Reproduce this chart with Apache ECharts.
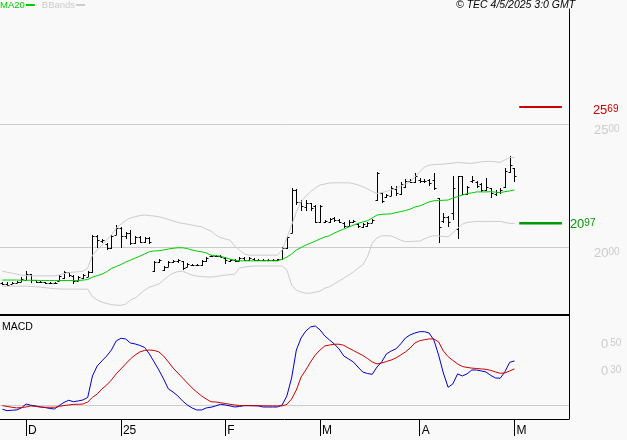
<!DOCTYPE html>
<html>
<head>
<meta charset="utf-8">
<title>MACD chart</title>
<script src="https://cdn.jsdelivr.net/npm/echarts@6/dist/echarts.min.js"></script>
<style>
  html, body { margin: 0; padding: 0; background: #f9f9f9; }
  #chart { width: 627px; height: 440px; }
</style>
</head>
<body>
<div id="chart"></div>
<script>
// bars
const openPrices = [1854,1850,1850,1854,1858,1866,1890,1866,1858,1858,1854,1854,1862,1874,1898,1882,1862,1874,1878,1898,2045,2024,2012,1996,2049,2077,2045,2057,2016,2041,2020,2037,1902,1939,1907,1919,1939,1943,1943,1919,1927,1927,1927,1943,1963,1963,1963,1955,1943,1947,1943,1955,1947,1951,1947,1947,1947,1947,1947,1951,1996,2057,2232,2183,2163,2179,2167,2102,2102,2102,2118,2110,2098,2085,2102,2093,2081,2085,2098,2191,2220,2203,2207,2236,2215,2244,2268,2264,2272,2268,2272,2272,2199,2106,2122,2138,2073,2289,2215,2268,2264,2256,2232,2240,2215,2224,2244,2305,2321];
const highPrices = [1858,1858,1858,1862,1878,1902,1890,1866,1862,1858,1858,1858,1886,1902,1898,1886,1882,1890,1902,2049,2049,2033,2016,2049,2089,2081,2061,2069,2045,2045,2041,2041,1943,1951,1923,1943,1947,1951,1943,1935,1931,1931,1947,1959,1967,1967,1967,1959,1951,1951,1959,1959,1959,1955,1951,1951,1951,1951,1951,2000,2045,2240,2236,2191,2191,2179,2171,2171,2110,2118,2122,2114,2102,2110,2110,2098,2098,2102,2114,2305,2224,2215,2248,2248,2264,2276,2276,2301,2280,2276,2276,2301,2199,2138,2126,2289,2289,2289,2248,2289,2268,2260,2280,2240,2232,2240,2321,2370,2321];
const lowPrices = [1846,1841,1850,1854,1858,1866,1854,1854,1854,1850,1850,1850,1862,1870,1878,1850,1862,1870,1878,1894,1996,2016,1988,1992,2049,1996,2033,2008,2012,2016,2016,2012,1898,1935,1902,1919,1935,1935,1907,1919,1923,1923,1923,1939,1959,1959,1959,1931,1939,1939,1943,1943,1943,1943,1943,1943,1943,1943,1943,1947,1992,2057,2171,2146,2146,2146,2098,2098,2098,2098,2102,2098,2077,2081,2098,2077,2077,2081,2098,2187,2179,2199,2207,2207,2211,2240,2260,2260,2260,2260,2248,2232,2016,2098,2081,2110,2033,2211,2211,2260,2240,2224,2228,2199,2207,2215,2240,2301,2264];
const closePrices = [1850,1846,1854,1858,1870,1890,1866,1858,1858,1854,1854,1854,1882,1898,1886,1862,1878,1886,1898,2045,2028,2028,1996,2045,2077,2045,2057,2016,2041,2020,2037,2020,1939,1947,1919,1939,1943,1947,1915,1931,1927,1927,1943,1955,1963,1963,1959,1947,1947,1943,1955,1947,1955,1947,1947,1947,1947,1947,1951,1996,2041,2232,2183,2167,2179,2159,2102,2167,2106,2114,2110,2102,2085,2102,2106,2085,2093,2098,2110,2301,2187,2211,2240,2220,2256,2268,2264,2289,2268,2268,2260,2240,2081,2122,2102,2240,2289,2215,2244,2272,2248,2232,2244,2220,2224,2232,2309,2333,2289];

const ma20 = [1866,1866,1866,1866,1865,1865,1865,1865,1864,1864,1864,1864,1864,1864,1864,1864,1864,1866,1868,1878,1884,1890,1900,1913,1921,1929,1939,1947,1955,1963,1972,1981,1984,1985,1988,1992,1995,1997,1997,1994,1988,1984,1981,1976,1967,1965,1963,1957,1951,1947,1944,1944,1944,1944,1944,1944,1944,1944,1944,1950,1959,1972,1988,1998,2008,2016,2024,2033,2041,2046,2057,2065,2073,2081,2089,2096,2102,2107,2118,2130,2133,2134,2135,2140,2144,2148,2154,2163,2167,2175,2183,2188,2189,2190,2191,2199,2205,2211,2217,2220,2224,2224,2224,2225,2223,2221,2225,2228,2232];
const bandUpper = [1902,1898,1894,1890,1886,1884,1883,1883,1883,1883,1883,1883,1886,1892,1896,1898,1900,1902,1915,1967,1988,2008,2028,2049,2077,2093,2108,2118,2123,2128,2130,2128,2126,2123,2118,2112,2106,2100,2096,2093,2089,2085,2083,2073,2065,2049,2038,2033,2028,2004,1988,1972,1967,1967,1967,1967,1967,1967,1967,1988,2037,2089,2142,2184,2207,2225,2240,2252,2256,2260,2261,2261,2261,2261,2258,2252,2245,2236,2226,2218,2221,2226,2232,2238,2248,2256,2265,2285,2305,2325,2333,2335,2336,2337,2339,2341,2344,2342,2341,2340,2343,2346,2348,2348,2346,2344,2354,2364,2363];
const bandLower = [1841,1841,1841,1841,1841,1841,1840,1839,1837,1835,1833,1831,1830,1829,1829,1829,1829,1829,1829,1798,1785,1776,1771,1766,1764,1763,1768,1785,1793,1809,1825,1837,1843,1850,1866,1882,1894,1900,1902,1894,1886,1882,1880,1879,1878,1880,1884,1886,1888,1890,1915,1919,1921,1923,1923,1923,1923,1923,1923,1923,1907,1846,1825,1817,1812,1813,1817,1821,1833,1839,1850,1862,1873,1886,1898,1915,1927,1961,2016,2037,2046,2046,2045,2037,2028,2022,2022,2024,2024,2033,2041,2046,2045,2043,2042,2057,2077,2093,2100,2102,2104,2104,2104,2104,2104,2104,2100,2096,2096];

const macdLine = [-0.032,-0.042,-0.039,-0.037,-0.022,0.007,-0.002,-0.007,-0.015,-0.019,-0.026,-0.030,-0.004,0.019,0.035,0.024,0.030,0.037,0.056,0.215,0.289,0.326,0.363,0.407,0.474,0.494,0.489,0.459,0.452,0.441,0.426,0.378,0.319,0.259,0.193,0.119,0.096,0.067,0.030,0,-0.022,-0.037,-0.037,-0.022,-0.017,-0.007,0.005,0,-0.007,-0.015,-0.011,-0.005,-0.005,-0.005,-0.007,-0.015,-0.015,-0.015,-0.015,0,0.067,0.200,0.407,0.496,0.548,0.578,0.585,0.556,0.511,0.481,0.452,0.415,0.363,0.341,0.319,0.281,0.244,0.233,0.227,0.281,0.319,0.378,0.400,0.415,0.452,0.496,0.519,0.533,0.543,0.543,0.533,0.481,0.370,0.237,0.131,0.156,0.230,0.215,0.230,0.259,0.259,0.252,0.244,0.219,0.200,0.198,0.247,0.316,0.326];
const signalLine = [-0.005,-0.011,-0.017,-0.022,-0.019,-0.015,-0.007,-0.011,-0.015,-0.017,-0.017,-0.017,-0.011,-0.004,0,0.004,0.005,0.007,0.022,0.056,0.081,0.119,0.148,0.185,0.230,0.267,0.304,0.341,0.370,0.393,0.404,0.407,0.404,0.393,0.363,0.319,0.274,0.237,0.200,0.163,0.126,0.096,0.067,0.044,0.024,0.022,0.017,0.011,0.005,0,-0.004,-0.005,-0.005,-0.006,-0.006,-0.006,-0.007,-0.007,-0.007,-0.007,0.004,0.044,0.111,0.207,0.259,0.319,0.370,0.407,0.437,0.444,0.450,0.450,0.442,0.422,0.404,0.385,0.367,0.344,0.319,0.304,0.311,0.322,0.333,0.348,0.370,0.393,0.422,0.459,0.476,0.483,0.489,0.489,0.467,0.400,0.358,0.330,0.304,0.285,0.278,0.273,0.270,0.267,0.264,0.256,0.244,0.235,0.237,0.252,0.267];

// month ticks and right-hand scales
const tickIndexes = [5, 25, 47, 67, 88, 108];
const tickLabels = ['D', '25', 'F', 'M', 'A', 'M'];
const priceTicks = [2000, 2500];
const macdTicks = [0.3, 0.5];

// the two levels drawn right of the last bar
const levelSpan = [109, 118];
const levelHigh = 2569;
const levelLow = 2097;

const slotCount = 120;
const categories = Array.from({ length: slotCount }, (v, i) => i);
const ohlcData = openPrices.map((o, i) => [i, o, highPrices[i], lowPrices[i], closePrices[i]]);

const fontFamily = '"Liberation Sans", Arial, sans-serif';

const renderBar = (params, api) => {
  const i = api.value(0);
  const crisp = (n) => Math.round(n) + 0.5;
  const top = api.coord([i, api.value(2)]);
  const bottom = api.coord([i, api.value(3)]);
  const open = api.coord([i, api.value(1)]);
  const close = api.coord([i, api.value(4)]);
  const x = crisp(top[0]);
  const style = { stroke: '#000', lineWidth: 1, fill: null };
  return {
    type: 'group',
    children: [
      { type: 'line', shape: { x1: x, y1: Math.round(top[1]), x2: x, y2: Math.round(bottom[1]) }, style },
      { type: 'line', shape: { x1: x - 2, y1: crisp(open[1]), x2: x, y2: crisp(open[1]) }, style },
      { type: 'line', shape: { x1: x, y1: crisp(close[1]), x2: x + 2, y2: crisp(close[1]) }, style },
    ],
  };
};

const lineSeries = (name, data, color, xAxisIndex, width) => ({
  name,
  type: 'line',
  data,
  xAxisIndex,
  yAxisIndex: xAxisIndex,
  symbol: 'none',
  silent: true,
  lineStyle: { color, width: width || 1 },
  itemStyle: { color },
});

const levelSeries = (value, color, width, labelDistance, labelOffset) => ({
  type: 'line',
  data: levelSpan.map((i) => [i, value]),
  symbol: 'none',
  silent: true,
  lineStyle: { color, width },
  endLabel: {
    show: true,
    distance: labelDistance,
    offset: labelOffset,
    formatter: () => {
      const s = String(value);
      return '{a|' + s.slice(0, 2) + '}{b|' + s.slice(2) + '}';
    },
    rich: {
      a: { color, fontSize: 13, fontFamily },
      b: { color, fontSize: 10, fontFamily, padding: [0, 0, 2, 0] },
    },
  },
});

const chart = echarts.init(document.getElementById('chart'), null, { renderer: 'canvas' });

chart.setOption({
  animation: false,
  backgroundColor: '#f9f9f9',
  textStyle: { fontFamily },
  legend: {
    left: 0,
    top: 0,
    padding: 0,
    itemGap: 7,
    itemWidth: 9,
    itemHeight: 2,
    align: 'right',
    icon: 'rect',
    selectedMode: false,
    data: [
      { name: 'MA20', textStyle: { color: '#00cc00' } },
      { name: 'BBands', textStyle: { color: '#cccccc' } },
    ],
    textStyle: { fontSize: 9.5, fontFamily, padding: [0, -4, 0, 0] },
  },
  grid: [
    { left: 0, right: 58, top: 9, height: 306 },
    { left: 0, right: 58, top: 316, height: 103 },
  ],
  xAxis: [
    {
      type: 'category',
      gridIndex: 0,
      data: categories,
      axisLine: { onZero: false, lineStyle: { color: '#000', width: 2 } },
      axisTick: { show: false },
      axisLabel: { show: false },
      splitLine: { show: false },
    },
    {
      type: 'category',
      gridIndex: 1,
      data: categories,
      axisLine: { onZero: false, lineStyle: { color: '#000', width: 1 } },
      axisTick: {
        show: true,
        alignWithLabel: true,
        length: 17,
        lineStyle: { color: '#000' },
        interval: (index) => tickIndexes.includes(index),
      },
      axisLabel: {
        align: 'left',
        margin: 6,
        padding: [0, 0, 0, 2],
        color: '#000',
        fontSize: 12,
        fontFamily,
        hideOverlap: false,
        interval: (index) => tickIndexes.includes(index),
        formatter: (value) => tickLabels[tickIndexes.indexOf(Number(value))],
      },
      splitLine: { show: false },
    },
  ],
  yAxis: [
    {
      type: 'value',
      gridIndex: 0,
      position: 'right',
      min: 1724,
      max: 2967,
      axisLine: { show: true, lineStyle: { color: '#000' } },
      axisTick: { show: false, customValues: priceTicks },
      splitLine: { show: true, lineStyle: { color: '#cccccc' } },
      axisLabel: {
        customValues: priceTicks,
        margin: 25,
        verticalAlign: 'top',
        formatter: (v) => '{a|' + String(v).slice(0, 2) + '}{b|' + String(v).slice(2) + '}',
        rich: {
          a: { color: '#cccccc', fontSize: 13, fontFamily },
          b: { color: '#cccccc', fontSize: 10, fontFamily, padding: [0, 0, 2, 0] },
        },
      },
    },
    {
      type: 'value',
      gridIndex: 1,
      position: 'right',
      min: -0.104,
      max: 0.659,
      axisLine: { show: true, lineStyle: { color: '#000' } },
      axisTick: { show: false, customValues: macdTicks },
      splitLine: { show: false },
      axisLabel: {
        customValues: macdTicks,
        margin: 32,
        verticalAlign: 'top',
        formatter: (v) => '{a|0}{b|' + v.toFixed(2).slice(2) + '}',
        rich: {
          a: { color: '#cccccc', fontSize: 13, fontFamily },
          b: { color: '#cccccc', fontSize: 10, fontFamily, padding: [0, 0, 2, 2] },
        },
      },
    },
    {
      // zero line only
      type: 'value',
      gridIndex: 1,
      position: 'right',
      min: -0.104,
      max: 0.659,
      axisLine: { show: false },
      axisTick: { show: false, customValues: [0] },
      axisLabel: { show: false, customValues: [0] },
      splitLine: { show: true, lineStyle: { color: '#cccccc' } },
    },
  ],
  series: [
    lineSeries('BBands', bandUpper, '#cccccc', 0),
    lineSeries('BBands', bandLower, '#cccccc', 0),
    lineSeries('MA20', ma20, '#00cc00', 0),
    {
      type: 'custom',
      data: ohlcData,
      renderItem: renderBar,
      silent: true,
      clip: false,
      encode: { x: 0, y: [1, 2, 3, 4] },
    },
    levelSeries(levelHigh, '#cc0000', 2, 31, [0, 3]),
    levelSeries(levelLow, '#009900', 2.5, 8, [0, 1]),
    lineSeries('MACD', macdLine, '#0000cc', 1),
    lineSeries('Signal', signalLine, '#cc0000', 1),
  ],
  graphic: [
    {
      type: 'text',
      left: 456,
      top: 0,
      style: { text: '© TEC 4/5/2025 3:0 GMT', fill: '#000', font: 'italic 10.5px ' + fontFamily },
    },
    {
      type: 'text',
      left: 2,
      top: 322,
      style: { text: 'MACD', fill: '#000', font: '10.5px ' + fontFamily },
    },
  ],
});
</script>
</body>
</html>
